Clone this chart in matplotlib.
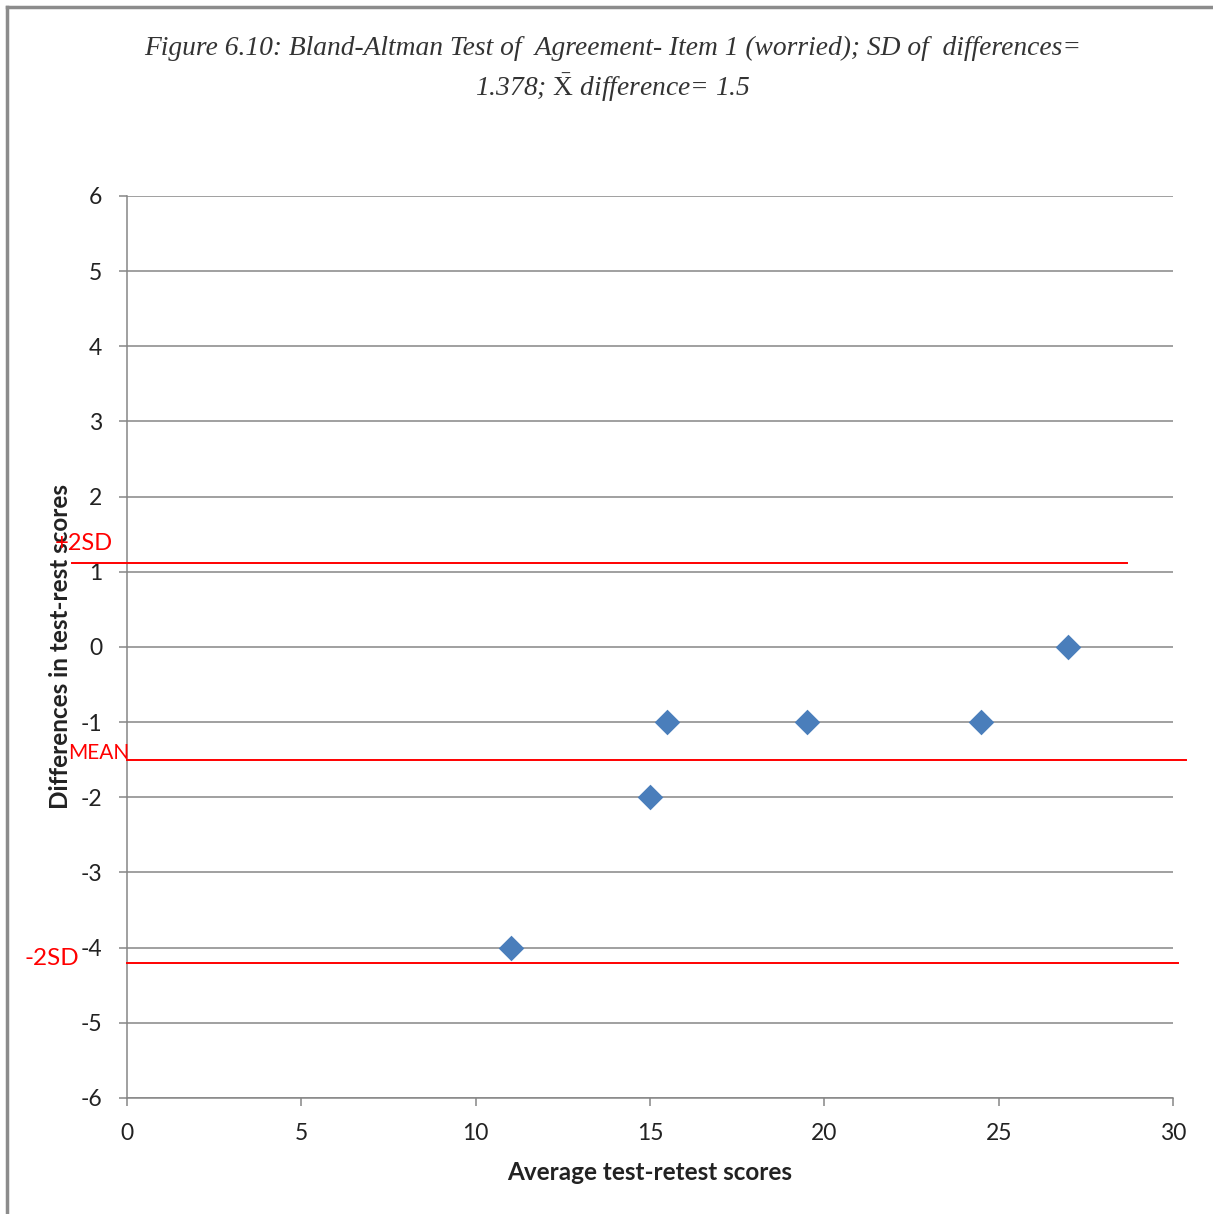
import matplotlib.pyplot as plt
from matplotlib.lines import Line2D

# --- Data ---
avg_scores = [11, 15, 15.5, 19.5, 24.5, 27]
differences = [-4, -2, -1, -1, -1, 0]

# hand drawn limit lines (+2SD, MEAN, -2SD) as they appear on the chart
limit_names = ['+2SD', 'MEAN', '-2SD']
limit_levels = [1.12, -1.5, -4.2]
limit_starts = [-1.58, 0, 0]
limit_ends = [28.68, 30.37, 30.14]
limit_label_x = [-2.06, -1.69, -2.93]
limit_label_y = [1.38, -1.41, -4.14]
limit_label_size = [17, 15, 17.5]

x_ticks = [0, 5, 10, 15, 20, 25, 30]
y_ticks = list(range(-6, 7))

title = ('Figure 6.10: Bland-Altman Test of  Agreement- Item 1 (worried); SD of  differences=\n'
         r'1.378; $\bar{\mathrm{X}}$ difference= 1.5')

plt.rcParams['font.family'] = ['Lato', 'DejaVu Sans']
plt.rcParams['axes.unicode_minus'] = False
plt.rcParams['mathtext.fontset'] = 'custom'
plt.rcParams['mathtext.rm'] = 'Liberation Serif'
plt.rcParams['mathtext.it'] = 'Liberation Serif:italic'

fig = plt.figure(figsize=(12.13, 12.14), dpi=100)
ax = fig.add_axes([0.1047, 0.0956, 0.8624, 0.7430])

grid_col = '#868686'
ax.set_xlim(0, 30)
ax.set_ylim(-6, 6)
ax.set_xticks(x_ticks)
ax.set_yticks(y_ticks)
ax.yaxis.grid(True, color=grid_col, linewidth=1.1)
ax.set_axisbelow(True)
for side in ['top', 'right']:
    ax.spines[side].set_visible(False)
for side in ['left', 'bottom']:
    ax.spines[side].set_color(grid_col)
    ax.spines[side].set_linewidth(1.1)
ax.tick_params(axis='both', colors=grid_col, length=6, width=1.1,
               labelsize=16.5, labelcolor='#222222')
ax.tick_params(axis='y', pad=12)
ax.tick_params(axis='x', pad=12)

ax.scatter(avg_scores, differences, marker='D', s=170, color='#4A7EBB',
           zorder=3, linewidths=0)

for name, lvl, x0, x1, lx, ly, fs in zip(limit_names, limit_levels, limit_starts,
                                         limit_ends, limit_label_x, limit_label_y,
                                         limit_label_size):
    ax.plot([x0, x1], [lvl, lvl], color='#FF0000', linewidth=1.4,
            clip_on=False, zorder=4)
    ax.text(lx, ly, name, color='#FF0000', fontsize=fs, ha='left', va='center',
            clip_on=False, zorder=5)

ax.set_xlabel('Average test-retest scores', fontsize=17.5, fontweight='bold',
              color='#222222', labelpad=12)
ax.set_ylabel('Differences in test-rest scores', fontsize=17.5, fontweight='bold',
              color='#222222', labelpad=6)

fig.text(0.505, 0.9424, title, ha='center', va='center', fontsize=19.8,
         family='Liberation Serif', style='italic', color='#333333',
         linespacing=1.45)

# chart border (left and top edge visible)
fig.add_artist(Line2D([0.006, 0.006], [0, 0.9945], transform=fig.transFigure,
                      color='#8c8c8c', linewidth=2.5))
fig.add_artist(Line2D([0.006, 1], [0.9945, 0.9945], transform=fig.transFigure,
                      color='#8c8c8c', linewidth=2.5))

fig.savefig('out.png', dpi=100)
